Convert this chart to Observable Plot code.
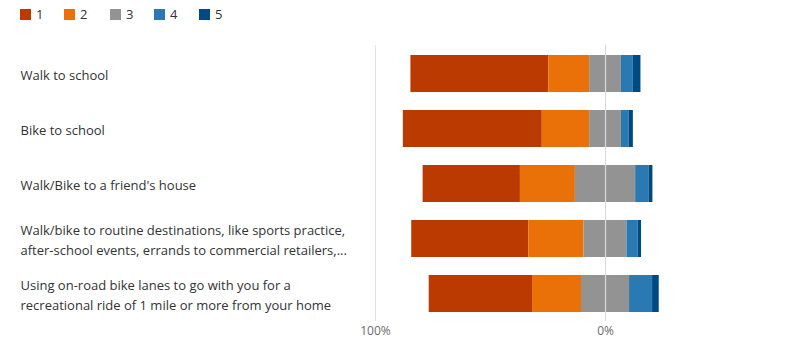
<!DOCTYPE html>
<html>
<head>
<meta charset="utf-8">
<script src="https://cdn.jsdelivr.net/npm/d3@7"></script>
<script src="https://cdn.jsdelivr.net/npm/@observablehq/plot@0.6"></script>
<style>
  html, body { margin: 0; padding: 0; background: #fff; }
  body { width: 785px; height: 341px; overflow: hidden; font-family: "Open Sans", "Noto Sans", sans-serif; }
  #legend { height: 28px; display: flex; align-items: center; padding-left: 20px; box-sizing: border-box; }
  .item { display: flex; align-items: center; font-size: 13px; color: #333; margin-right: 0; }
  .sw { width: 11px; height: 11px; margin-right: 5px; }
  svg { display: block; }
</style>
</head>
<body>
<div id="legend"></div>
<div id="chart"></div>
<script>
const categories = [
  "Walk to school",
  "Bike to school",
  "Walk/Bike to a friend's house",
  "Walk/bike to routine destinations, like sports practice,\nafter-school events, errands to commercial retailers,...",
  "Using on-road bike lanes to go with you for a\nrecreational ride of 1 mile or more from your home"
];
const levels = ["1", "2", "3", "4", "5"];
const colors = ["#BA3A02", "#EA7108", "#939393", "#2A79B2", "#004A84"];
// percentage per response level, per category
const level1 = [60.0, 60.4, 42.3, 50.9, 44.9];
const level2 = [17.7, 20.6, 23.9, 24.0, 21.3];
const level3 = [13.8, 13.8, 26.2, 18.7, 20.9];
const level4 = [5.2, 3.3, 5.8, 4.8, 10.0];
const level5 = [3.3, 1.9, 1.7, 1.5, 2.9];
const tickValues = [-1, 0];

const series = [level1, level2, level3, level4, level5];
const rows = [];
categories.forEach((c, i) => {
  let start = -(level1[i] + level2[i] + level3[i] / 2) / 100;
  series.forEach((s, k) => {
    const v = s[i] / 100;
    rows.push({category: c, level: levels[k], x1: start, x2: start + v});
    start += v;
  });
});

// legend
const lg = document.getElementById("legend");
const legendX = [0, 44, 90, 134, 179];
levels.forEach((l, k) => {
  const it = document.createElement("div");
  it.className = "item";
  it.style.width = (k < levels.length - 1 ? (legendX[k + 1] - legendX[k]) : 40) + "px";
  it.innerHTML = `<span class="sw" style="background:${colors[k]}"></span><span>${l}</span>`;
  lg.appendChild(it);
});

const chart = Plot.plot({
  width: 785,
  height: 313,
  marginLeft: 375,
  marginRight: 4,
  marginTop: 17,
  marginBottom: 20,
  style: {fontFamily: "'Open Sans', 'Noto Sans', sans-serif", background: "#fff"},
  x: {domain: [-1, 0.765], axis: null},
  y: {domain: categories, axis: null, paddingInner: 0.33, paddingOuter: 0.165},
  color: {domain: levels, range: colors},
  marks: [
    Plot.ruleX([-1], {stroke: "#e3e3e3", strokeWidth: 1}),
    Plot.barX(rows, {y: "category", x1: "x1", x2: "x2", fill: "level", inset: 0}),
    Plot.ruleX([0], {stroke: "#dadada", strokeWidth: 1.2}),
    Plot.ruleY([0], {frameAnchor: "bottom", stroke: "#e0e0e0", strokeWidth: 1}),
    Plot.axisX({ticks: tickValues, tickSize: 0, tickPadding: 5, fontSize: 12, color: "#6b6b6b",
      tickFormat: d => Math.abs(Math.round(d * 100)) + "%"}),
    Plot.text(categories, {y: d => d, frameAnchor: "left", dx: -355, textAnchor: "start",
      text: d => d, fontSize: 13, fill: "#333", lineHeight: 1.54})
  ]
});
document.getElementById("chart").appendChild(chart);
</script>
</body>
</html>
